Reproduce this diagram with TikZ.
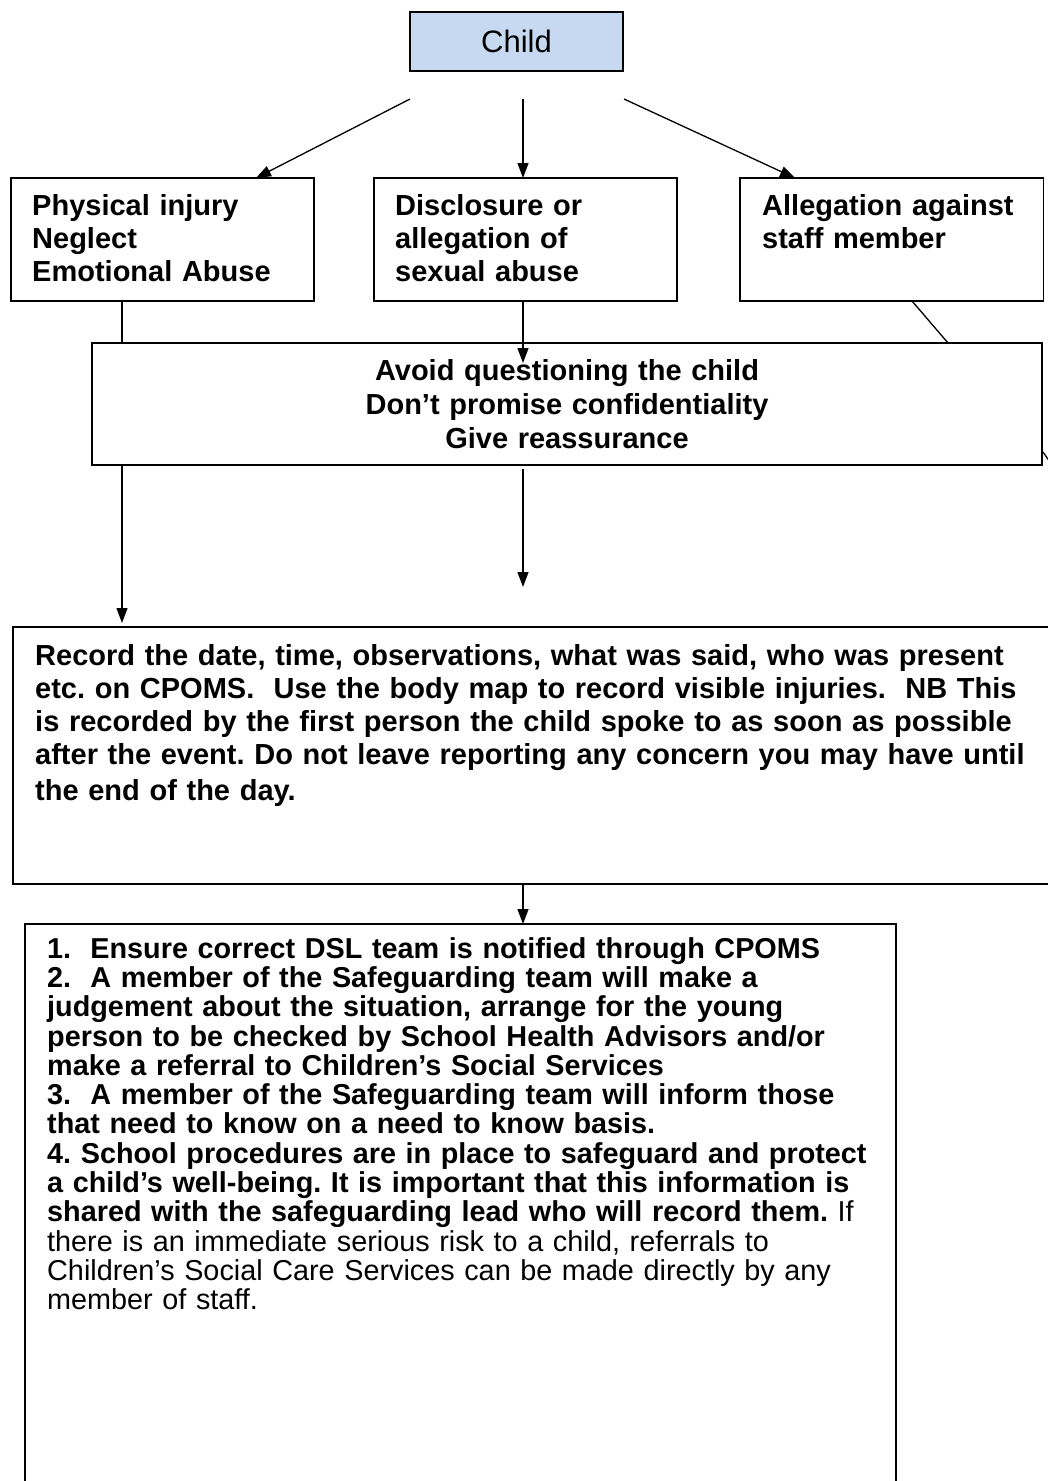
\documentclass[tikz,border=0pt]{standalone}
\usepackage{fontspec}
\setmainfont{Liberation Sans}
\usetikzlibrary{arrows.meta}
\definecolor{childblue}{RGB}{198,217,241}
\frenchspacing
\begin{document}
\frenchspacing
\begin{tikzpicture}[x=1pt,y=-1pt,
  box/.style={draw=black, line width=1.8pt, inner sep=0pt, rectangle},
  conn/.style={line width=1.3pt},
  arr/.style={conn, -{Triangle[length=15pt,width=11pt]}},
  txt/.style={inner sep=0pt, anchor=base west, align=left, font=\fontsize{29}{33}\selectfont\bfseries\frenchspacing}]
\useasboundingbox (0,0) rectangle (1048,1481);
\clip (0,0) rectangle (1048,1481);
% boxes
\node[box, minimum width=213pt, minimum height=59pt, fill=childblue, font=\fontsize{31}{36}\selectfont] (child) at (516.5,41.5) {Child};
\node[box, minimum width=303pt, minimum height=123pt] (b1) at (162.5,239.5) {};
\node[box, minimum width=303pt, minimum height=123pt] (b2) at (525.5,239.5) {};
\node[box, minimum width=303.5pt, minimum height=123pt] (b3) at (891.75,239.5) {};
\node[box, minimum width=950pt, minimum height=122pt] (mid) at (567,404) {};
\node[box, minimum width=1057pt, minimum height=257pt] (rec) at (541.5,755.5) {};
\node[box, minimum width=871pt, minimum height=596pt] (act) at (460.5,1222) {};
% texts
\node[txt, text width=280pt] (t1) at (32,215) {Physical injury\\Neglect\\Emotional Abuse};
\node[txt, text width=280pt] (t2) at (395,215) {Disclosure or\\allegation of\\sexual abuse};
\node[txt, text width=280pt] (t3) at (762,215) {Allegation against\\staff member};
\node[txt, anchor=base, align=center, text width=900pt, font=\fontsize{29}{34}\selectfont\bfseries\frenchspacing] (tm) at (567,380) {Avoid questioning the child\\Don’t promise confidentiality\\Give reassurance};
\node[txt, text width=1040pt] (tr) at (35,665) {Record the date, time, observations, what was said, who was present\\etc. on CPOMS.\ \ Use the body map to record visible injuries.\ \ NB This\\is recorded by the first person the child spoke to as soon as possible\\after the event. Do not leave reporting any concern you may have until\\[3pt]the end of the day.};
\node[txt, text width=1000pt, font=\fontsize{28.8}{29.33}\selectfont\bfseries\frenchspacing] (ta) at (47,958) {1.\ \ Ensure correct DSL team is notified through CPOMS\\2.\ \ A member of the Safeguarding team will make a\\judgement about the situation, arrange for the young\\person to be checked by School Health Advisors and/or\\make a referral to Children’s Social Services\\3.\ \ A member of the Safeguarding team will inform those\\that need to know on a need to know basis.\\4. School procedures are in place to safeguard and protect\\a child’s well-being. It is important that this information is\\shared with the safeguarding lead who will record them.\mdseries{} If\\there is an immediate serious risk to a child, referrals to\\Children’s Social Care Services can be made directly by any\\member of staff.};
% connector end points
\coordinate (p1) at (410,99);  \coordinate (q1) at (256,178);
\coordinate (p2) at (523,99);  \coordinate (q2) at (523,178);
\coordinate (p3) at (624,99);  \coordinate (q3) at (795,178);
\coordinate (l1a) at (122,301); \coordinate (l1b) at (122,343);
\coordinate (l2a) at (523,301); \coordinate (l2b) at (523,363);
\coordinate (l3a) at (912,301); \coordinate (l3b) at (948,343);
\coordinate (s1) at (1043,452); \coordinate (s2) at (1050,462);
\coordinate (m1a) at (122,465); \coordinate (m1b) at (122,623);
\coordinate (m2a) at (523,469); \coordinate (m2b) at (523,587);
\coordinate (r1a) at (523,884); \coordinate (r1b) at (523,924);
% connectors
\draw[arr] (p1) -- (q1);
\draw[arr] (p2) -- (q2);
\draw[arr] (p3) -- (q3);
\draw[conn] (l1a) -- (l1b);
\draw[arr] (l2a) -- (l2b);
\draw[conn] (l3a) -- (l3b);
\draw[conn] (s1) -- (s2);
\draw[arr] (m1a) -- (m1b);
\draw[arr] (m2a) -- (m2b);
\draw[arr] (r1a) -- (r1b);
\end{tikzpicture}
\end{document}
